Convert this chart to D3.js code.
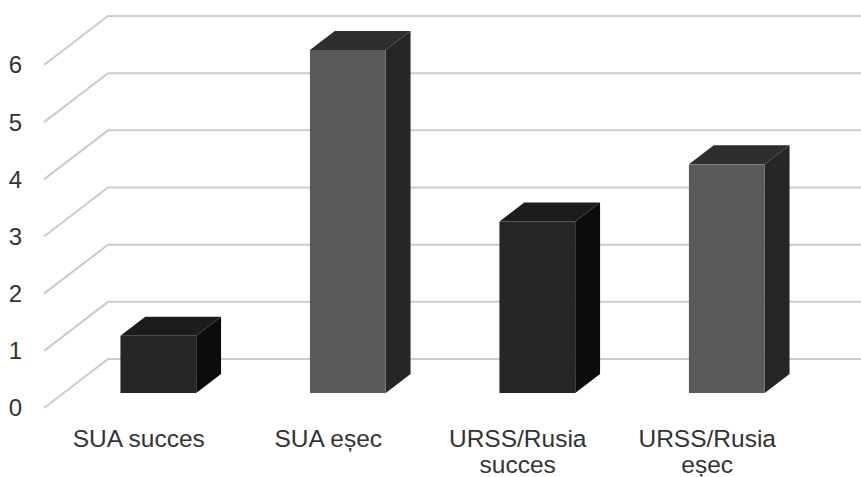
<!DOCTYPE html>
<html>
<head>
<meta charset="utf-8">
<script src="https://cdn.jsdelivr.net/npm/d3@7/dist/d3.min.js"></script>
<style>
  html, body { margin: 0; padding: 0; background: #ffffff; }
  svg { display: block; }
  text { font-family: "Liberation Sans", Arial, Helvetica, sans-serif; fill: #333333; }
</style>
</head>
<body>
<svg id="chart" width="861" height="477"></svg>
<script>
// Data
const categories = ["SUA succes", "SUA eșec", "URSS/Rusia succes", "URSS/Rusia eșec"];
const values = [1, 6, 3, 4];
const yTicks = [0, 1, 2, 3, 4, 5, 6];

// Colours per bar: front face, top face, side face
const faceColors = [
  { front: "#262626", top: "#1c1c1c", side: "#0c0c0c" },
  { front: "#5a5a5a", top: "#2e2e2e", side: "#262626" },
  { front: "#262626", top: "#1c1c1c", side: "#0c0c0c" },
  { front: "#5a5a5a", top: "#2e2e2e", side: "#262626" }
];

const width = 861, height = 477;
const svg = d3.select("#chart");

// Oblique projection: moving from the front of the floor to the back wall
const depthDX = 64, depthDY = -49;
const wallLeft = 108, wallRight = 861;
const floorFrontLeft = wallLeft - depthDX;

// Value scale on the back wall
const yBack = d3.scaleLinear().domain([0, 6]).range([359, 16]);
// Category scale along the front edge of the floor
const x = d3.scaleBand().domain(categories).range([floorFrontLeft, 802]);

// Bars occupy the middle slice of the floor depth
const tFront = 0.306, tBack = 0.694;
const barW = x.bandwidth() * 0.4;
const bdx = depthDX * (tBack - tFront), bdy = depthDY * (tBack - tFront);

// Gridlines: left wall diagonal + back wall horizontal
const grid = svg.append("g");
yTicks.forEach(v => {
  const yb = yBack(v);
  grid.append("path")
    .attr("d", `M${floorFrontLeft},${yb - depthDY} L${wallLeft},${yb} L${wallRight},${yb}`)
    .attr("fill", "none")
    .attr("stroke", "#cccccc")
    .attr("stroke-width", 2);
});

// Y tick labels at the front end of each gridline
svg.append("g").selectAll("text")
  .data(yTicks)
  .join("text")
  .attr("x", 22)
  .attr("y", d => yBack(d) - depthDY)
  .attr("dy", "0.35em")
  .attr("text-anchor", "end")
  .attr("font-size", 24)
  .text(d => d);

// Bars
const bars = svg.append("g");
categories.forEach((c, i) => {
  const cx = x(c) + x.bandwidth() / 2 + depthDX * tFront;
  const x0 = cx - barW / 2, x1 = cx + barW / 2;
  // value scale shifted to the depth of the bar's front face
  const yBot = yBack(0) - depthDY * (1 - tFront);
  const yTop = yBot - (yBack(0) - yBack(values[i]));
  const col = faceColors[i];
  const g = bars.append("g");
  g.append("polygon")
    .attr("points", [[x1, yTop], [x1 + bdx, yTop + bdy], [x1 + bdx, yBot + bdy], [x1, yBot]].join(" "))
    .attr("fill", col.side);
  g.append("polygon")
    .attr("points", [[x0, yTop], [x0 + bdx, yTop + bdy], [x1 + bdx, yTop + bdy], [x1, yTop]].join(" "))
    .attr("fill", col.top);
  g.append("rect")
    .attr("x", x0).attr("y", yTop)
    .attr("width", barW).attr("height", yBot - yTop)
    .attr("fill", col.front);
});

// Category labels, wrapped to the band width
const labels = svg.append("g").selectAll("text")
  .data(categories)
  .join("text")
  .attr("x", d => x(d) + x.bandwidth() / 2)
  .attr("y", 447)
  .attr("text-anchor", "middle")
  .attr("font-size", 24.5);

labels.each(function(d) {
  const t = d3.select(this);
  const words = d.split(" ");
  const maxW = 150;
  let line = [];
  let tspan = t.append("tspan").attr("x", t.attr("x")).attr("dy", 0);
  words.forEach(w => {
    line.push(w);
    tspan.text(line.join(" "));
    if (tspan.node().getComputedTextLength() > maxW && line.length > 1) {
      line.pop();
      tspan.text(line.join(" "));
      line = [w];
      tspan = t.append("tspan").attr("x", t.attr("x")).attr("dy", 26).text(w);
    }
  });
});
</script>
</body>
</html>
